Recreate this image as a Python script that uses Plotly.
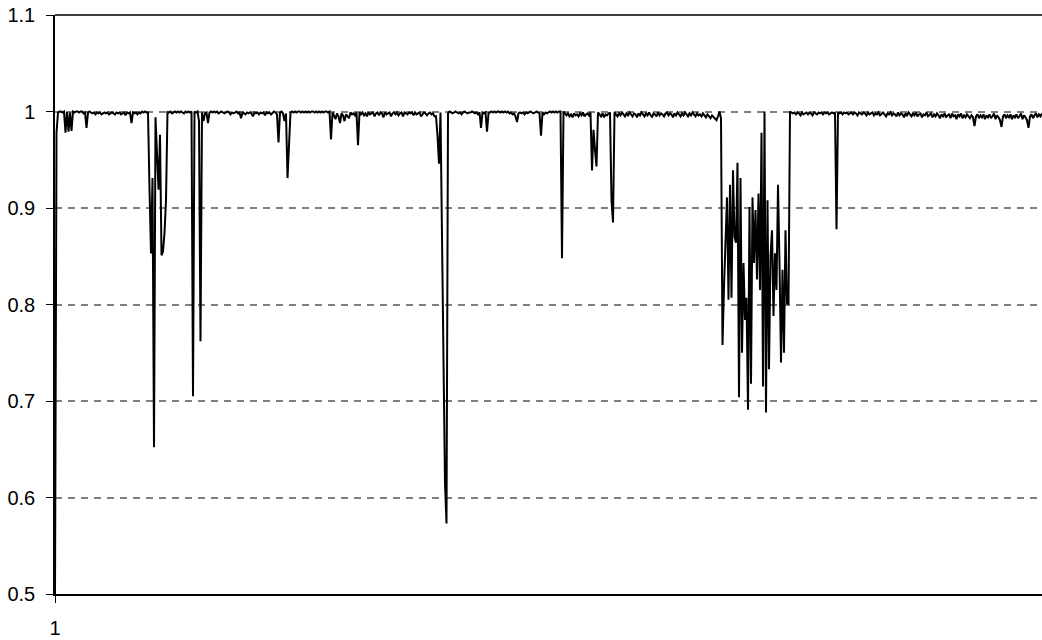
import plotly.graph_objects as go

seg_a = [
    0.500, 0.978, 0.999, 1.000, 1.000, 0.999, 1.000, 0.978, 1.000, 0.979,
    0.999, 0.980, 1.000, 0.999, 1.000, 1.000, 0.999, 1.000, 1.000, 0.998,
    0.999, 0.983, 0.999, 1.000, 0.999, 0.998, 0.999, 0.997, 0.999, 0.998,
    0.999, 0.997, 0.998, 0.999, 0.998, 0.999, 0.997, 0.998, 0.999, 0.998,
    0.997, 0.999, 0.998, 0.999, 0.997, 0.998, 0.999, 0.996, 0.999, 0.998,
    0.999, 0.988, 0.999, 0.998, 0.999, 0.997, 0.999, 0.998, 1.000, 0.999,
    1.000, 0.999, 0.999, 0.920, 0.853, 0.931, 0.652, 0.994, 0.960, 0.919,
    0.976, 0.851, 0.855, 0.874, 0.908, 1.000, 0.999, 1.000, 0.998, 0.999,
    1.000, 0.999, 1.000, 0.999, 1.000, 0.999, 0.998, 1.000, 0.999, 1.000,
    0.999, 1.000, 0.705, 1.000, 0.999, 1.000, 0.990, 0.762, 0.999, 0.990,
]
seg_b = [
    0.998, 0.999, 0.988, 0.999, 1.000, 0.999, 1.000, 0.999, 1.000, 0.998,
    0.999, 1.000, 0.999, 0.998, 0.999, 1.000, 0.999, 0.997, 0.999, 0.998,
    0.999, 1.000, 0.998, 0.999, 0.993, 0.999, 0.998, 0.997, 0.999, 0.998,
    0.999, 0.998, 0.995, 0.999, 0.998, 0.999, 0.997, 0.999, 0.998, 0.999,
    0.996, 0.999, 0.998, 0.999, 0.997, 0.999, 1.000, 0.999, 0.997, 0.968,
    0.999, 1.000, 0.998, 0.990, 0.998, 0.931, 0.965, 0.999, 1.000, 0.999,
    1.000, 0.999, 1.000, 1.000, 0.999, 1.000, 0.999, 1.000, 0.999, 1.000,
    0.999, 1.000, 1.000, 0.999, 1.000, 0.999, 1.000, 0.999, 1.000, 0.999,
    1.000, 1.000, 0.999, 1.000, 0.971, 0.999, 0.996, 0.992, 0.998, 0.995,
    0.988, 0.998, 0.996, 0.990, 0.997, 0.995, 0.993, 0.999, 0.997, 0.998,
]
seg_c = [
    0.996, 0.999, 0.965, 0.999, 0.997, 0.999, 0.996, 0.998, 0.995, 0.999,
    0.997, 0.998, 0.999, 0.995, 0.998, 0.999, 0.996, 0.999, 0.998, 0.994,
    0.999, 0.997, 0.998, 0.999, 0.995, 0.998, 0.999, 0.997, 0.999, 0.996,
    0.998, 0.999, 0.995, 0.999, 0.998, 0.997, 0.999, 0.998, 0.999, 0.996,
    0.999, 0.997, 0.998, 0.999, 0.995, 0.997, 0.999, 0.998, 0.996, 0.998,
    0.999, 0.997, 0.998, 0.995, 0.995, 0.975, 0.946, 0.999, 0.870, 0.740,
    0.615, 0.573, 0.998, 1.000, 0.999, 0.998, 0.999, 1.000, 0.999, 0.998,
    0.999, 0.997, 0.999, 1.000, 0.999, 0.998, 0.999, 0.999, 1.000, 0.999,
    0.998, 0.999, 0.997, 0.999, 0.983, 0.999, 0.998, 0.999, 0.979, 0.998,
    0.999, 1.000, 0.999, 1.000, 0.999, 1.000, 1.000, 0.999, 1.000, 0.999,
]
seg_d = [
    1.000, 0.999, 1.000, 0.998, 0.999, 0.997, 0.998, 0.995, 0.989, 0.998,
    0.999, 0.998, 0.999, 0.997, 0.999, 0.998, 0.999, 1.000, 0.999, 0.998,
    0.999, 1.000, 0.999, 0.998, 0.975, 0.999, 0.997, 0.999, 0.998, 0.999,
    1.000, 0.999, 1.000, 0.999, 1.000, 0.999, 1.000, 1.000, 0.848, 1.000,
    0.998, 0.996, 0.998, 0.995, 0.997, 0.994, 0.998, 0.996, 0.997, 0.995,
    0.998, 0.996, 0.999, 0.995, 0.997, 0.998, 0.996, 0.999, 0.939, 0.981,
    0.960, 0.943, 0.999, 0.997, 0.995, 0.998, 0.994, 0.997, 0.996, 0.998,
    0.999, 0.908, 0.885, 0.999, 0.997, 0.995, 0.998, 0.996, 0.999, 0.997,
    0.995, 0.998, 0.996, 0.999, 0.997, 0.995, 0.998, 0.997, 0.994, 0.998,
    0.996, 0.999, 0.997, 0.995, 0.998, 0.996, 0.999, 0.997, 0.994, 0.998,
]
seg_e = [
    0.997, 0.995, 0.999, 0.996, 0.998, 0.997, 0.995, 0.998, 0.999, 0.996,
    0.998, 0.997, 0.994, 0.998, 0.996, 0.999, 0.997, 0.995, 0.998, 0.996,
    0.999, 0.997, 0.995, 0.998, 0.996, 0.999, 0.997, 0.995, 0.998, 0.996,
    0.997, 0.995, 0.998, 0.996, 0.994, 0.997, 0.995, 0.993, 0.996, 0.994,
    0.992, 0.991, 0.995, 1.000, 0.993, 0.758, 0.818, 0.877, 0.911, 0.805,
    0.924, 0.807, 0.939, 0.870, 0.864, 0.947, 0.704, 0.931, 0.750, 0.843,
    0.784, 0.807, 0.691, 0.901, 0.718, 0.911, 0.843, 0.898, 0.826, 0.915,
    0.815, 0.978, 0.715, 1.000, 0.688, 0.908, 0.733, 0.850, 0.877, 0.788,
    0.853, 0.815, 0.924, 0.843, 0.740, 0.836, 0.750, 0.877, 0.801, 0.800,
    1.000, 0.999, 0.998, 0.999, 0.997, 0.999, 0.998, 0.996, 0.999, 0.997,
]
seg_f = [
    0.998, 0.999, 0.997, 0.999, 0.998, 0.996, 0.999, 0.998, 0.997, 0.999,
    0.998, 0.999, 0.997, 0.999, 0.998, 0.999, 0.997, 0.998, 0.999, 0.998,
    0.999, 0.878, 0.999, 0.998, 0.999, 0.997, 0.999, 0.998, 0.999, 0.997,
    0.998, 0.999, 0.997, 0.999, 0.998, 0.996, 0.999, 0.998, 0.997, 0.999,
    0.998, 0.996, 0.999, 0.997, 0.998, 0.999, 0.996, 0.998, 0.997, 0.999,
    0.996, 0.998, 0.999, 0.997, 0.995, 0.998, 0.997, 0.999, 0.996, 0.998,
    0.997, 0.995, 0.999, 0.996, 0.998, 0.997, 0.994, 0.998, 0.996, 0.999,
    0.997, 0.995, 0.998, 0.996, 0.999, 0.995, 0.997, 0.998, 0.994, 0.997,
    0.996, 0.999, 0.995, 0.997, 0.998, 0.994, 0.997, 0.995, 0.998, 0.996,
    0.993, 0.997, 0.995, 0.998, 0.994, 0.996, 0.997, 0.993, 0.998, 0.995,
]
seg_g = [
    0.996, 0.992, 0.997, 0.995, 0.998, 0.993, 0.996, 0.994, 0.997, 0.995,
    0.993, 0.996, 0.994, 0.985, 0.995, 0.997, 0.993, 0.996, 0.994, 0.997,
    0.992, 0.996, 0.994, 0.997, 0.993, 0.995, 0.998, 0.992, 0.996, 0.994,
    0.991, 0.984, 0.995, 0.997, 0.993, 0.996, 0.994, 0.997, 0.992, 0.996,
    0.994, 0.997, 0.993, 0.995, 0.998, 0.992, 0.996, 0.994, 0.991, 0.983,
    0.995, 0.997, 0.993, 0.996, 0.998, 0.994, 0.997, 0.995, 0.998,
]

values = seg_a + seg_b + seg_c + seg_d + seg_e + seg_f + seg_g
x_idx = list(range(1, len(values) + 1))
y_ticks = [0.5, 0.6, 0.7, 0.8, 0.9, 1.0, 1.1]
y_labels = ["0.5", "0.6", "0.7", "0.8", "0.9", "1", "1.1"]
x_tick_vals = [1]
x_tick_text = ["1"]

FONT = "Liberation Sans"

fig = go.Figure()
fig.add_trace(go.Scatter(
    x=x_idx, y=values, mode="lines",
    line=dict(color="#000000", width=2),
    hoverinfo="skip", showlegend=False,
))

fig.update_layout(
    width=1042, height=640,
    margin=dict(l=55, r=0, t=15, b=46),
    paper_bgcolor="white", plot_bgcolor="white",
    font=dict(family=FONT, size=20, color="#000000"),
    showlegend=False,
    shapes=[dict(type="line", xref="paper", yref="paper",
                 x0=0, x1=1, y0=1, y1=1,
                 line=dict(color="#000000", width=1.5))],
)
fig.update_xaxes(
    range=[1, len(values)],
    tickvals=x_tick_vals, ticktext=x_tick_text,
    showgrid=False, zeroline=False,
    showline=True, linecolor="#000000", linewidth=2,
    ticks="outside", ticklen=7, tickcolor="#000000", tickwidth=1,
    ticklabelstandoff=8,
    tickfont=dict(family=FONT, size=20, color="#000000"),
)
fig.update_yaxes(
    range=[0.5, 1.1],
    tickvals=y_ticks, ticktext=y_labels,
    showgrid=True, gridcolor="#808080", gridwidth=1.5, griddash="7px,6px",
    zeroline=False,
    showline=True, linecolor="#000000", linewidth=1.5,
    ticks="outside", ticklen=7, tickcolor="#000000", tickwidth=1,
    ticklabelstandoff=7,
    tickfont=dict(family=FONT, size=20, color="#000000"),
)

fig.write_html("out.html")
